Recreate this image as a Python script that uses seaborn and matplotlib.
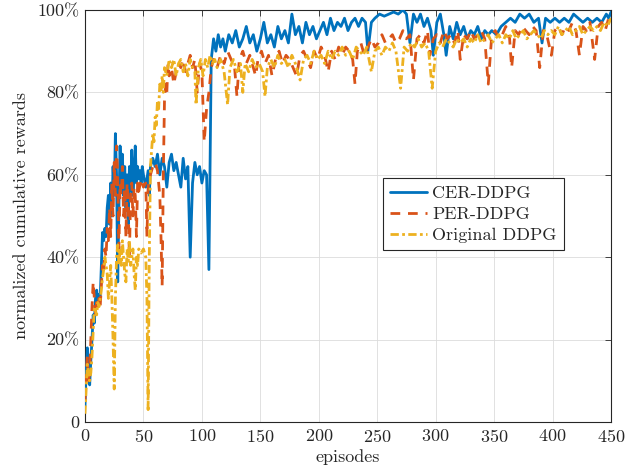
import numpy as np
import pandas as pd
import matplotlib
matplotlib.use("Agg")
import matplotlib.pyplot as plt
import seaborn as sns

# CER-DDPG (blue, solid)
cer_ep = [0, 1, 2, 3, 4, 5, 6, 7, 8, 9, 10, 11, 12, 13, 14, 15, 16, 17, 18, 19,
          20, 21, 22, 23, 24, 25, 26, 27, 28, 29, 30, 31, 32, 33, 34, 35, 36, 37, 38, 39,
          40, 41, 42, 43, 44, 45, 46, 47, 48, 49, 50, 52, 54, 55, 56, 58, 60, 62, 64, 66,
          68, 70, 72, 74, 76, 78, 80, 82, 84, 86, 88, 90, 92, 94, 96, 98, 100, 102, 104, 106,
          108, 110, 112, 114, 116, 118, 120, 123, 126, 129, 132, 135, 138, 141, 144, 147, 150, 153, 156, 159,
          162, 165, 168, 171, 174, 177, 180, 183, 186, 189, 192, 195, 198, 201, 204, 207, 210, 213, 216, 219,
          222, 225, 228, 231, 234, 237, 240, 242, 245, 248, 252, 256, 260, 264, 268, 272, 275, 278, 281, 284,
          287, 290, 293, 296, 298, 301, 304, 307, 309, 312, 315, 318, 321, 324, 327, 330, 333, 336, 339, 342,
          345, 348, 352, 356, 360, 364, 368, 372, 376, 380, 384, 388, 391, 394, 398, 402, 406, 410, 414, 418,
          422, 426, 430, 434, 438, 442, 446, 448, 450]
cer_val = [4, 12, 18, 14, 9, 15, 20, 26, 24, 30, 32, 29, 31, 30, 38, 46, 44, 47, 45, 52,
           55, 48, 58, 50, 62, 55, 70, 60, 34, 52, 67, 58, 65, 55, 62, 52, 60, 48, 62, 56,
           66, 55, 60, 67, 58, 62, 59, 61, 58, 62, 60, 57, 61, 55, 62, 64, 62, 65, 60, 64,
           62, 57, 63, 65, 61, 63, 60, 57, 64, 59, 62, 40, 58, 63, 60, 62, 58, 61, 60, 37,
           88, 93, 90, 94, 91, 93, 90, 94, 92, 95, 91, 93, 96, 92, 94, 90, 93, 97, 92, 94,
           91, 96, 93, 95, 92, 99, 94, 96, 92, 97, 94, 96, 93, 95, 97, 94, 98, 95, 97, 96,
           98, 95, 97, 98, 96, 98, 97, 90, 97, 98, 99, 98.5, 99, 99.5, 99, 100, 99, 92, 99, 97,
           99, 96, 98, 95, 89, 97, 99, 94, 89, 96, 93, 97, 94, 96, 93, 95, 94, 96, 93, 95,
           94, 95, 94, 96, 97, 98, 97, 99, 98, 99, 97, 98, 92, 98, 97, 98, 97, 98, 97, 99,
           98, 97, 98, 97, 98, 97, 99, 98, 99.5]

# PER-DDPG (red, dashed)
per_ep = [0, 1, 2, 3, 4, 5, 6, 7, 8, 9, 10, 11, 12, 13, 14, 15, 16, 17, 18, 19,
          20, 21, 22, 23, 24, 25, 26, 27, 28, 29, 30, 31, 32, 33, 34, 35, 36, 37, 38, 39,
          40, 41, 42, 43, 44, 45, 46, 48, 50, 52, 53, 54, 56, 58, 60, 62, 64, 65, 66, 67,
          68, 69, 70, 71, 72, 74, 76, 78, 80, 82, 84, 86, 88, 90, 92, 94, 96, 98, 100, 102,
          104, 106, 108, 110, 113, 116, 119, 122, 125, 128, 130, 132, 135, 138, 141, 144, 146, 148, 151, 154,
          157, 160, 163, 166, 169, 172, 175, 178, 181, 184, 187, 190, 193, 196, 199, 202, 205, 208, 211, 214,
          217, 220, 223, 226, 229, 231, 233, 236, 239, 242, 245, 248, 251, 254, 257, 260, 263, 266, 269, 272,
          275, 278, 281, 284, 287, 290, 293, 295, 298, 301, 304, 307, 310, 313, 316, 319, 321, 324, 327, 330,
          333, 336, 339, 342, 345, 348, 351, 354, 357, 360, 363, 365, 368, 371, 374, 377, 380, 383, 386, 389,
          392, 395, 399, 402, 405, 408, 411, 414, 417, 420, 423, 426, 429, 432, 436, 439, 442, 445, 448, 450]
per_val = [5, 12, 16, 10, 12, 20, 28, 34, 30, 26, 29, 27, 30, 28, 33, 38, 36, 42, 40, 47,
           44, 52, 45, 58, 50, 63, 55, 67, 60, 42, 58, 55, 62, 50, 57, 45, 58, 52, 40, 55,
           58, 50, 57, 55, 45, 58, 56, 59, 57, 58, 45, 57, 60, 62, 63, 61, 55, 45, 33, 60,
           78, 82, 80, 87, 84, 86, 82, 85, 87, 86, 88, 85, 87, 89, 86, 88, 80, 87, 85, 68,
           76, 80, 86, 88, 86, 89, 87, 90, 88, 86, 79, 88, 90, 87, 89, 86, 84, 88, 90, 87,
           89, 84, 88, 90, 87, 89, 88, 86, 84, 89, 90, 88, 86, 90, 88, 91, 89, 85, 90, 88,
           91, 89, 91, 90, 88, 82, 90, 92, 89, 91, 93, 91, 92, 94, 92, 93, 94, 92, 93, 95,
           93, 94, 83, 93, 94, 92, 95, 89, 93, 94, 92, 95, 93, 94, 92, 95, 88, 94, 93, 95,
           93, 94, 95, 93, 82, 94, 95, 93, 94, 96, 94, 86, 95, 94, 96, 95, 94, 96, 95, 86,
           95, 94, 89, 95, 96, 94, 96, 95, 97, 95, 89, 96, 95, 97, 88, 96, 97, 95, 98, 98]

# Original DDPG (yellow, dash-dot)
org_ep = [0, 1, 2, 3, 4, 5, 6, 7, 8, 9, 10, 11, 12, 13, 14, 15, 16, 17, 18, 19,
          20, 21, 22, 23, 24, 25, 26, 27, 28, 29, 30, 31, 32, 33, 34, 35, 36, 37, 38, 39,
          40, 41, 42, 43, 44, 45, 46, 48, 50, 52, 53, 54, 55, 56, 57, 58, 59, 60, 61, 62,
          63, 64, 65, 66, 67, 68, 70, 72, 74, 76, 78, 80, 82, 84, 86, 88, 90, 92, 94, 95,
          97, 99, 101, 103, 105, 107, 109, 111, 113, 116, 119, 122, 124, 127, 130, 133, 135, 137, 140, 143,
          146, 149, 152, 154, 156, 159, 162, 165, 168, 171, 174, 177, 180, 184, 187, 190, 193, 196, 199, 202,
          205, 208, 211, 214, 217, 220, 223, 226, 229, 232, 235, 238, 241, 245, 248, 251, 254, 257, 260, 263,
          266, 270, 273, 276, 279, 282, 285, 288, 291, 294, 297, 300, 303, 306, 309, 312, 315, 318, 321, 324,
          327, 330, 333, 336, 339, 342, 345, 348, 351, 354, 357, 360, 363, 366, 369, 372, 375, 378, 381, 384,
          387, 390, 393, 396, 399, 402, 405, 408, 411, 414, 417, 420, 423, 426, 429, 432, 435, 438, 441, 444,
          447, 450]
org_val = [2, 8, 14, 12, 10, 12, 16, 22, 28, 27, 26, 29, 28, 30, 32, 35, 37, 40, 38, 36,
           30, 34, 38, 30, 20, 8, 30, 40, 43, 38, 42, 38, 44, 40, 36, 34, 42, 39, 44, 38,
           40, 42, 36, 32, 40, 38, 42, 41, 42, 40, 30, 3, 40, 62, 66, 70, 68, 74, 72, 78,
           76, 82, 80, 84, 80, 86, 84, 88, 86, 88, 84, 87, 88, 85, 87, 84, 88, 86, 85, 77,
           86, 88, 84, 88, 86, 89, 87, 88, 86, 88, 85, 77, 86, 88, 85, 87, 80, 87, 85, 88,
           86, 87, 85, 79, 86, 88, 86, 89, 87, 88, 86, 89, 87, 83, 88, 89, 87, 90, 88, 89,
           87, 90, 88, 90, 89, 91, 89, 90, 88, 91, 90, 89, 91, 85, 90, 91, 89, 91, 90, 92,
           90, 81, 91, 90, 92, 91, 93, 91, 92, 90, 81, 90, 92, 91, 93, 92, 91, 93, 92, 93,
           91, 93, 92, 94, 92, 93, 94, 92, 93, 94, 92, 94, 93, 95, 93, 94, 95, 93, 94, 95,
           94, 93, 95, 94, 95, 94, 96, 94, 95, 96, 94, 95, 96, 94, 95, 96, 95, 96, 95, 97,
           96, 98]

sns.set_style("white")
plt.rcParams["font.family"] = ["cmr10", "DejaVu Serif"]
plt.rcParams["axes.formatter.use_mathtext"] = True
plt.rcParams["mathtext.fontset"] = "cm"

fig = plt.figure(figsize=(6.41, 4.75), dpi=100)
ax = fig.add_axes([0.1326, 0.1116, 0.8206, 0.8674])

cer = pd.DataFrame({"ep": cer_ep, "val": cer_val})
per = pd.DataFrame({"ep": per_ep, "val": per_val})
org = pd.DataFrame({"ep": org_ep, "val": org_val})

sns.lineplot(data=cer, x="ep", y="val", ax=ax, color="#0072BD", lw=2.0,
             label="CER-DDPG", zorder=3)
sns.lineplot(data=per, x="ep", y="val", ax=ax, color="#D95319", lw=2.0,
             label="PER-DDPG", zorder=4)
sns.lineplot(data=org, x="ep", y="val", ax=ax, color="#EDB120", lw=2.0,
             label="Original DDPG", zorder=5)
lines = ax.get_lines()
lines[1].set_dashes((3.5, 2.8))
lines[2].set_dashes((3.0, 1.2, 1.0, 1.2))

ax.set_xlim(0, 450)
ax.set_ylim(0, 100)
ax.set_xticks(np.arange(0, 451, 50))
ax.set_yticks([0, 20, 40, 60, 80, 100])
ax.set_yticklabels(["0", "20%", "40%", "60%", "80%", "100%"])
ax.set_xlabel("episodes", fontsize=13, labelpad=3)
ax.set_ylabel("normalized cumulative rewards", fontsize=13, labelpad=6)
ax.tick_params(direction="in", length=4, width=0.6, labelsize=13, colors="#262626",
               top=True, right=True, pad=4)
ax.grid(True, color="#dcdcdc", lw=0.6)
for s in ax.spines.values():
    s.set_color("#262626")
    s.set_linewidth(0.8)

leg = ax.legend(loc="lower left", bbox_to_anchor=(0.567, 0.417), fontsize=13,
                frameon=True, fancybox=False, handlelength=2.0, borderpad=0.4,
                labelspacing=0.3, handletextpad=0.3, borderaxespad=0)
leg.get_frame().set_edgecolor("#262626")
leg.get_frame().set_linewidth(0.8)
leg.get_frame().set_alpha(1)

fig.savefig("out.png", dpi=100)
